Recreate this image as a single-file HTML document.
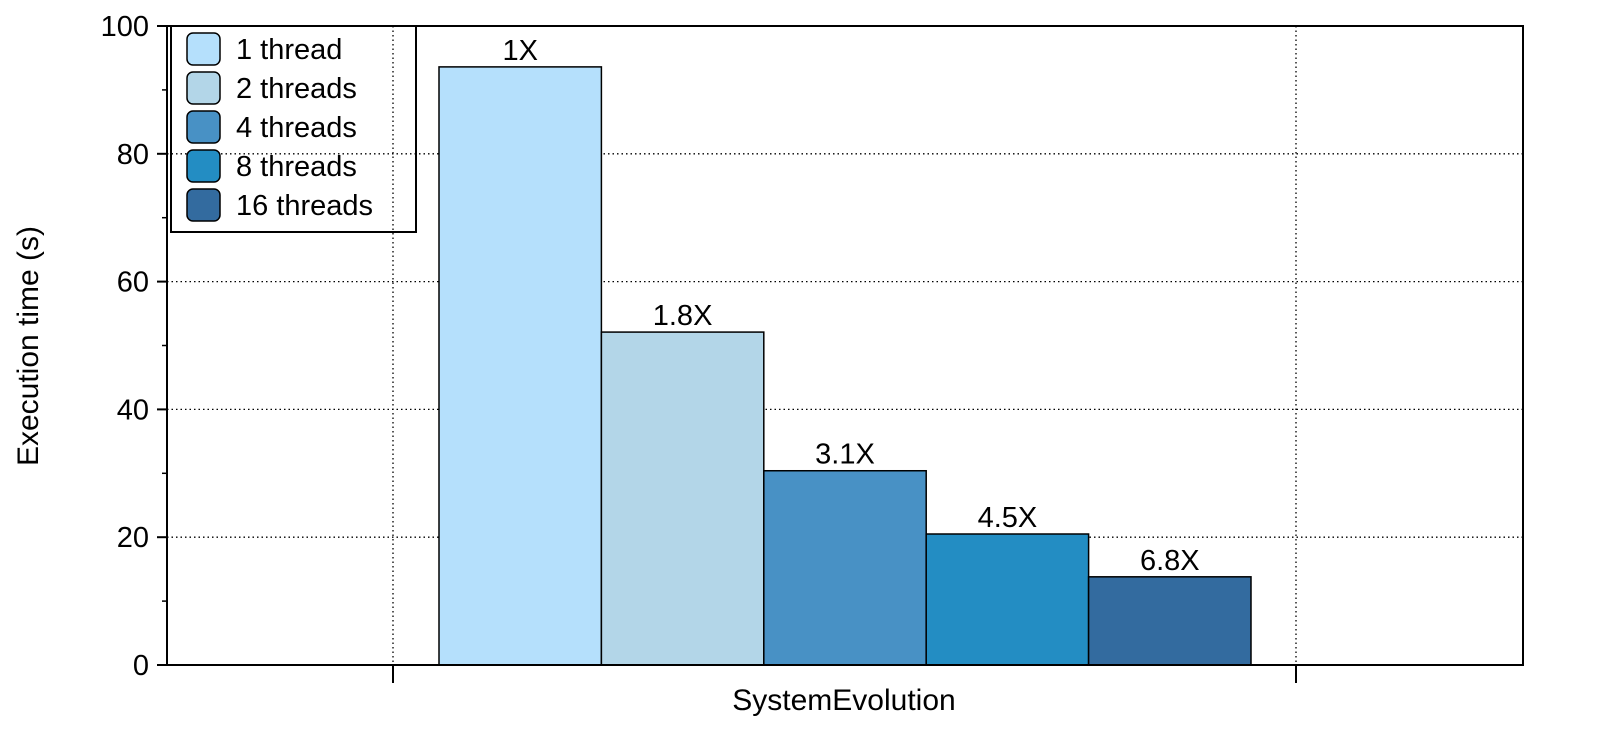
<!DOCTYPE html>
<html><head><meta charset="utf-8"><style>
body{margin:0;background:#fff;}
svg text{font-family:"Liberation Sans",Arial,sans-serif;fill:#000;}
</style></head><body>
<svg id="chart" width="1600" height="746" xmlns="http://www.w3.org/2000/svg">
<g id="grid"></g>
<g id="bars"></g>
<g id="axes"></g>
<g id="legend"></g>
</svg>
<script>
const categories = ["1 thread","2 threads","4 threads","8 threads","16 threads"];
const values = [93.6, 52.1, 30.4, 20.5, 13.8];
const labels = ["1X","1.8X","3.1X","4.5X","6.8X"];
const colors = ["#b5e0fc","#b3d6e8","#4891c5","#238dc3","#336b9f"];
const yTicks = [0,20,40,60,80,100];
const xCategory = "SystemEvolution";

const NS="http://www.w3.org/2000/svg";
const L=167,R=1523,T=26,B=665;
const y=v=>B-(v/100)*(B-T);
const barX0=439, barW=162.4;
function mk(tag,attrs,parent){const e=document.createElementNS(NS,tag);for(const k in attrs)e.setAttribute(k,attrs[k]);parent.appendChild(e);return e;}
const grid=document.getElementById('grid'),bars=document.getElementById('bars'),axes=document.getElementById('axes'),legend=document.getElementById('legend');

yTicks.forEach(t=>{
  if(t>0&&t<100){const g=mk('line',{x1:L,x2:R,y1:y(t),y2:y(t),stroke:'#000','stroke-width':1.3,'stroke-dasharray':'1.5,3'},grid);
  
  }
  const tk=mk('line',{x1:L-10,x2:L,y1:y(t),y2:y(t),stroke:'#000','stroke-width':2},axes);
  
  
  const tx=mk('text',{x:L-18,y:y(t)+10,'text-anchor':'end','font-size':29},axes);tx.textContent=t;
  
  
  if(t<100){const m=mk('line',{x1:L-5,x2:L,y1:y(t+10),y2:y(t+10),stroke:'#000','stroke-width':1.5},axes);
  
  }
});
[393,1296].forEach((x,i)=>{
  const g=mk('line',{x1:x,x2:x,y1:T,y2:B,stroke:'#000','stroke-width':1.3,'stroke-dasharray':'1.5,3'},grid);
  
  
  const tk=mk('line',{x1:x,x2:x,y1:B,y2:B+18,stroke:'#000','stroke-width':2},axes);
  
  
});
values.forEach((v,i)=>{
  const r=mk('rect',{x:barX0+i*barW,y:y(v),width:barW,height:B-y(v),fill:colors[i],stroke:'#000','stroke-width':1.5},bars);
  
  
  const t=mk('text',{x:barX0+i*barW+barW/2,y:y(v)-7,'text-anchor':'middle','font-size':29},bars);t.textContent=labels[i];
  
  
});
const frame=mk('rect',{x:L,y:T,width:R-L,height:B-T,fill:'none',stroke:'#000','stroke-width':2},axes);


const xl=mk('text',{x:844,y:710,'text-anchor':'middle','font-size':30},axes);xl.textContent=xCategory;


const yl=mk('text',{x:0,y:0,'text-anchor':'middle','font-size':30,transform:'translate(38,346) rotate(-90)'},axes);yl.textContent="Execution time (s)";



const lb=mk('rect',{x:171,y:26,width:245,height:206,fill:'none',stroke:'#000','stroke-width':2},legend);


categories.forEach((c,i)=>{
  const cy=49+i*39;
  const g=mk('g',{},legend);
  
  
  mk('rect',{x:187,y:cy-16,width:33,height:32,rx:6,fill:colors[i],stroke:'#000','stroke-width':1.5},g);
  const t=mk('text',{x:236,y:cy+10,'font-size':29},g);t.textContent=c;
});
</script>
</body></html>
